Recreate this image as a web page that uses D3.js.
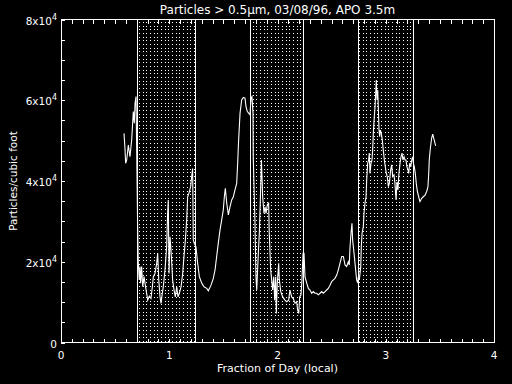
<!DOCTYPE html>
<html>
<head>
<meta charset="utf-8">
<script src="https://cdn.jsdelivr.net/npm/d3@7"></script>
<style>
  html, body { margin: 0; padding: 0; background: #000; }
  svg { display: block; }
  text { font-family: "DejaVu Sans", sans-serif; fill: #fff; }
</style>
</head>
<body>
<div id="chart"></div>
<script>
// Particle counter data, fraction of day (local) vs particles per cubic foot
const fracDay = [0.582,0.591,0.597,0.607,0.622,0.637,0.653,0.668,0.677,0.684,0.693,0.708,0.714,0.723,0.730,0.736,0.745,0.755,0.767,0.776,
  0.791,0.801,0.816,0.831,0.844,0.853,0.868,0.884,0.893,0.903,0.915,0.924,0.936,0.945,0.961,0.976,0.985,0.991,0.998,1.007,
  1.016,1.025,1.031,1.044,1.056,1.069,1.081,1.093,1.109,1.124,1.136,1.149,1.161,1.170,1.182,1.198,1.207,1.216,1.222,1.231,
  1.247,1.259,1.278,1.300,1.321,1.346,1.361,1.386,1.407,1.423,1.438,1.453,1.469,1.484,1.499,1.509,1.518,1.531,1.546,1.561,
  1.577,1.592,1.607,1.623,1.632,1.641,1.654,1.669,1.684,1.700,1.709,1.721,1.734,1.746,1.755,1.764,1.774,1.776,1.792,1.801,
  1.808,1.823,1.832,1.845,1.851,1.857,1.863,1.875,1.885,1.894,1.906,1.918,1.924,1.937,1.946,1.955,1.965,1.974,1.983,1.989,
  1.998,2.011,2.017,2.030,2.048,2.069,2.085,2.103,2.115,2.131,2.146,2.162,2.177,2.186,2.196,2.205,2.217,2.226,2.236,2.245,
  2.254,2.270,2.285,2.300,2.316,2.331,2.346,2.362,2.377,2.393,2.408,2.423,2.439,2.454,2.469,2.485,2.501,2.516,2.531,2.547,
  2.562,2.577,2.593,2.608,2.624,2.639,2.654,2.663,2.670,2.679,2.688,2.694,2.707,2.719,2.731,2.741,2.747,2.756,2.769,2.774,
  2.781,2.793,2.799,2.808,2.818,2.824,2.833,2.842,2.848,2.854,2.864,2.873,2.879,2.885,2.894,2.901,2.907,2.913,2.919,2.926,
  2.932,2.938,2.944,2.950,2.959,2.968,2.977,2.987,2.996,3.005,3.014,3.024,3.033,3.045,3.055,3.064,3.076,3.085,3.095,3.104,
  3.113,3.122,3.132,3.141,3.150,3.159,3.169,3.178,3.187,3.196,3.206,3.212,3.221,3.231,3.240,3.249,3.255,3.264,3.273,3.282,
  3.292,3.304,3.316,3.332,3.347,3.363,3.378,3.390,3.397,3.402,3.412,3.424,3.434,3.443,3.452,3.461]
const particles = [51800,48100,44400,45200,48900,46000,50200,57200,54300,59200,60900,28700,19600,15500,18800,14700,18800,13800,16300,14700,
  12200,10500,11500,10900,13800,16300,17100,19600,22100,15500,11300,9700,12200,13800,18000,23700,32000,35300,17100,26200,
  22900,18800,15500,13000,11300,13800,11300,12200,13800,17100,21300,25400,30300,36100,37000,38600,41100,43100,25400,24600,
  23700,20400,16300,14700,13800,13400,12800,14200,15900,18000,21300,24600,27900,30300,32800,36100,38200,34500,31600,33600,
  35300,36100,37800,39400,44400,50200,56800,60100,60700,60500,58400,57200,56800,56400,60500,60900,56800,46000,29500,16300,
  13000,22100,27000,38600,45200,41100,36100,32000,33600,32000,34100,34500,27000,18000,15500,13000,16300,10500,16300,7200,
  14700,19600,15500,12600,11300,10500,10100,10500,13000,11300,10900,9700,10100,8100,7200,11300,11800,15500,22100,22100,
  16300,14700,13400,13000,12200,12600,12200,12200,11800,12200,12600,12200,12600,13000,13400,14200,15100,15500,15900,16700,
  18000,19600,21300,21300,19200,18800,20000,19200,23700,27000,29500,25400,22100,18800,15500,14700,16300,15500,18800,23700,
  27000,28700,32000,34500,36100,40300,44400,45200,46900,41900,44400,45200,47700,51800,55900,58400,61700,65000,60100,62500,
  57600,52600,51000,52600,51800,50200,47700,45200,43500,41900,41100,38600,39400,42700,44000,41100,41500,39400,35300,39800,
  37800,41900,44400,46000,46900,45200,46000,45200,45200,43500,42700,41900,44400,43500,45200,46000,44400,43500,41900,39400,
  37400,36100,34900,35700,36100,36500,37400,38600,41900,45200,48100,50600,51600,50600,49700,48700]

// night-time (shaded) intervals
const nightStart = [0.705, 1.746, 2.746]
const nightEnd = [1.242, 2.238, 3.254]

const xTicks = [0, 1, 2, 3, 4]
const yTicks = [0, 20000, 40000, 60000, 80000]
const yTickMant = ["0", "2x10", "4x10", "6x10", "8x10"]
const yTickExp = ["", "4", "4", "4", "4"]

const W = 512, H = 384
const margin = {top: 19.5, right: 18, bottom: 41.5, left: 61}
const width = W - margin.left - margin.right
const height = H - margin.top - margin.bottom

const svg = d3.select("#chart").append("svg")
    .attr("width", W)
    .attr("height", H)
svg.append("rect").attr("width", W).attr("height", H).attr("fill", "#000")

// dotted fill pattern (shifted half a pixel so dots land on whole pixels)
const defs = svg.append("defs")
const pat = defs.append("pattern")
    .attr("id", "dots")
    .attr("patternUnits", "userSpaceOnUse")
    .attr("patternTransform", "translate(1,2.5)")
    .attr("width", 11).attr("height", 11)
;[0, 4, 7].forEach(px => {
    [0, 4, 7].forEach(py => {
        pat.append("rect").attr("x", px).attr("y", py)
            .attr("width", 1).attr("height", 1).attr("fill", "#fff")
    })
})

const g = svg.append("g")
    .attr("transform", "translate(" + margin.left + "," + margin.top + ")")

const x = d3.scaleLinear().domain([0, 4]).range([0, width])
const y = d3.scaleLinear().domain([0, 80000]).range([height, 0])

// shaded night regions
const nights = nightStart.map((s, i) => ({s: s, e: nightEnd[i]}))
g.selectAll(".night")
    .data(nights)
    .enter().append("rect")
    .attr("class", "night")
    .attr("x", d => Math.round(x(d.s)))
    .attr("y", 0)
    .attr("width", d => Math.round(x(d.e)) - Math.round(x(d.s)))
    .attr("height", height)
    .attr("fill", "url(#dots)")
const edges = nightStart.concat(nightEnd)
g.selectAll(".edge")
    .data(edges)
    .enter().append("line")
    .attr("class", "edge")
    .attr("x1", d => Math.round(x(d)) + 0.5)
    .attr("x2", d => Math.round(x(d)) + 0.5)
    .attr("y1", 0).attr("y2", height)
    .attr("stroke", "#fff")
    .attr("stroke-width", 1)

// data line
const line = d3.line()
    .x((d, i) => x(fracDay[i]))
    .y(d => y(d))
g.append("path")
    .datum(particles)
    .attr("fill", "none")
    .attr("stroke", "#fff")
    .attr("stroke-width", 1.1)
    .attr("d", line)

// axes
function styleAxis(sel) {
    sel.selectAll("line").attr("stroke", "#fff")
    sel.select(".domain").remove()
    sel.attr("shape-rendering", "crispEdges")
}

g.append("g")
    .attr("transform", "translate(0," + height + ")")
    .call(d3.axisBottom(x).tickValues(d3.range(0, 41).map(i => i / 10)).tickSize(-4).tickFormat(""))
    .call(styleAxis)
g.append("g")
    .call(d3.axisTop(x).tickValues(d3.range(0, 41).map(i => i / 10)).tickSize(-4).tickFormat(""))
    .call(styleAxis)
g.append("g")
    .call(d3.axisLeft(y).tickValues(d3.range(0, 17).map(i => i * 5000)).tickSize(-4).tickFormat(""))
    .call(styleAxis)

// frame
g.append("rect")
    .attr("x", 0).attr("y", 0)
    .attr("width", width).attr("height", height)
    .attr("fill", "none")
    .attr("stroke", "#fff")
    .attr("shape-rendering", "crispEdges")

// x tick labels
g.selectAll(".xlab")
    .data(xTicks)
    .enter().append("text")
    .attr("class", "xlab")
    .attr("x", d => x(d))
    .attr("y", height + 16)
    .attr("text-anchor", "middle")
    .attr("font-size", 10.5)
    .text(d => d)

// y tick labels with exponent
const ylab = g.selectAll(".ylab")
    .data(yTicks)
    .enter().append("text")
    .attr("class", "ylab")
    .attr("x", -4)
    .attr("y", d => y(d) + 5)
    .attr("text-anchor", "end")
    .attr("font-size", 10.5)
ylab.append("tspan").text((d, i) => yTickMant[i])
ylab.append("tspan")
    .attr("dy", -5)
    .attr("font-size", 8)
    .text((d, i) => yTickExp[i])

// titles
svg.append("text")
    .attr("x", margin.left + width / 2)
    .attr("y", 14)
    .attr("text-anchor", "middle")
    .attr("font-size", 12)
    .text("Particles > 0.5\u03bcm, 03/08/96, APO 3.5m")
svg.append("text")
    .attr("x", margin.left + width / 2)
    .attr("y", 372)
    .attr("text-anchor", "middle")
    .attr("font-size", 11)
    .text("Fraction of Day (local)")
svg.append("text")
    .attr("transform", "translate(17," + (margin.top + height / 2) + ") rotate(-90)")
    .attr("text-anchor", "middle")
    .attr("font-size", 10.5)
    .text("Particles/cubic foot")
</script>
</body>
</html>
